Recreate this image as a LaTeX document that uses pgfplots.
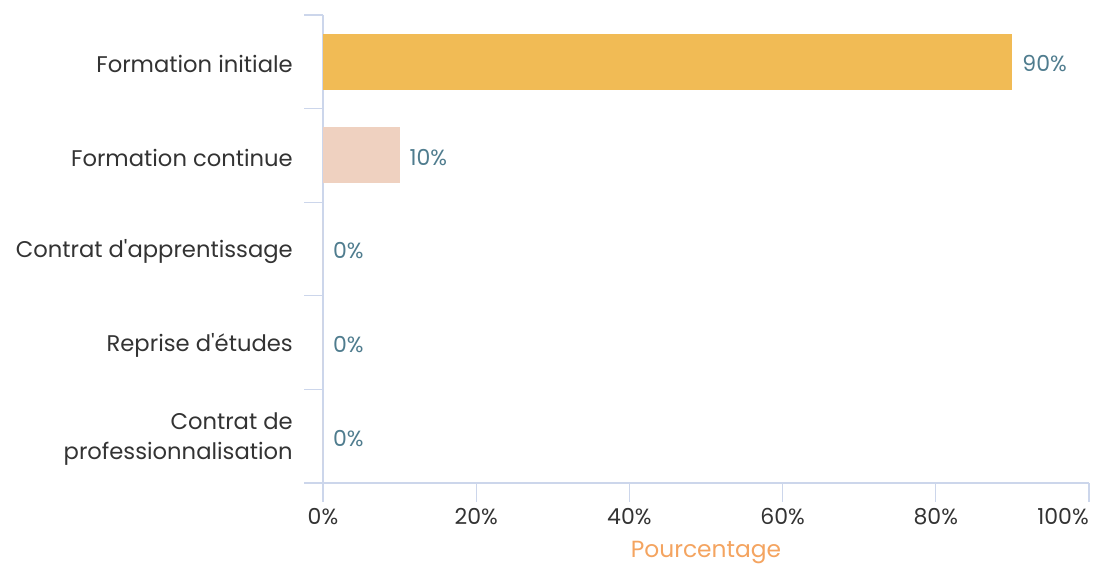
\documentclass[border=0pt]{standalone}
\usepackage{pgfplots}
\pgfplotsset{compat=1.18}
\usepackage{fontspec}
\setmainfont{Poppins}
\definecolor{axiscol}{HTML}{CCD6EB}
\definecolor{barA}{HTML}{F1BB55}
\definecolor{barB}{HTML}{EFD1C0}
\definecolor{lblcol}{HTML}{4F7C8E}
\definecolor{txtcol}{HTML}{333333}
\definecolor{titlecol}{HTML}{F4A460}
\begin{document}
\begin{tikzpicture}
\useasboundingbox (-242.25pt,-61.5pt) rectangle (577.5pt,362.25pt);
\begin{axis}[
  at={(0,0)}, anchor=south west,
  scale only axis, width=574.5pt, height=351pt,
  xbar, bar width=42pt, bar shift=0pt,
  xmin=0, xmax=100, ymin=0.5, ymax=5.5, y dir=reverse,
  axis x line*=bottom, axis y line*=left,
  axis line style={draw=axiscol, line width=0.9pt},
  every tick/.style={draw=axiscol, line width=0.9pt},
  tick align=outside, major tick length=14pt,
  xtick={0,20,40,60,80,100},
  xticklabels={0\%,20\%,40\%,60\%,80\%,},
  extra x ticks={100}, extra x tick labels={100\%},
  extra x tick style={xticklabel style={anchor=north east, xshift=0pt}},
  xticklabel style={font=\fontsize{16.5}{18}\selectfont, text=txtcol, inner sep=0pt, yshift=-5pt},
  ytick={0.5,1.5,...,5.5}, yticklabels={},
  extra y ticks={1,2,3,4,5},
  extra y tick labels={Formation initiale,Formation continue,Contrat d\textquotesingle apprentissage,Reprise d\textquotesingle études,{Contrat de\\professionnalisation}},
  extra y tick style={major tick length=0pt, yticklabel style={font=\fontsize{17}{22.5}\selectfont, text=txtcol, align=right, inner sep=0pt, xshift=-22.5pt, yshift=-1.8pt}},
  xlabel={Pourcentage},
  xlabel style={font=\fontsize{17.5}{20}\selectfont, text=titlecol, at={(axis description cs:0.5,0)}, anchor=center, yshift=-52pt},
  nodes near coords={\pgfmathprintnumber[assume math mode=true]{\pgfplotspointmeta}\%},
  nodes near coords align={horizontal},
  every node near coord/.append style={font=\fontsize{16.5}{18}\selectfont, text=lblcol, anchor=west, xshift=4pt, yshift=-1.5pt},
  clip=false,
]
\addplot[fill=barA, draw=none] coordinates {(90,1)};
\addplot[fill=barB, draw=none] coordinates {(10,2)};
\addplot[fill=barB, draw=none] coordinates {(0,3) (0,4) (0,5)};
\end{axis}
\end{tikzpicture}
\end{document}
